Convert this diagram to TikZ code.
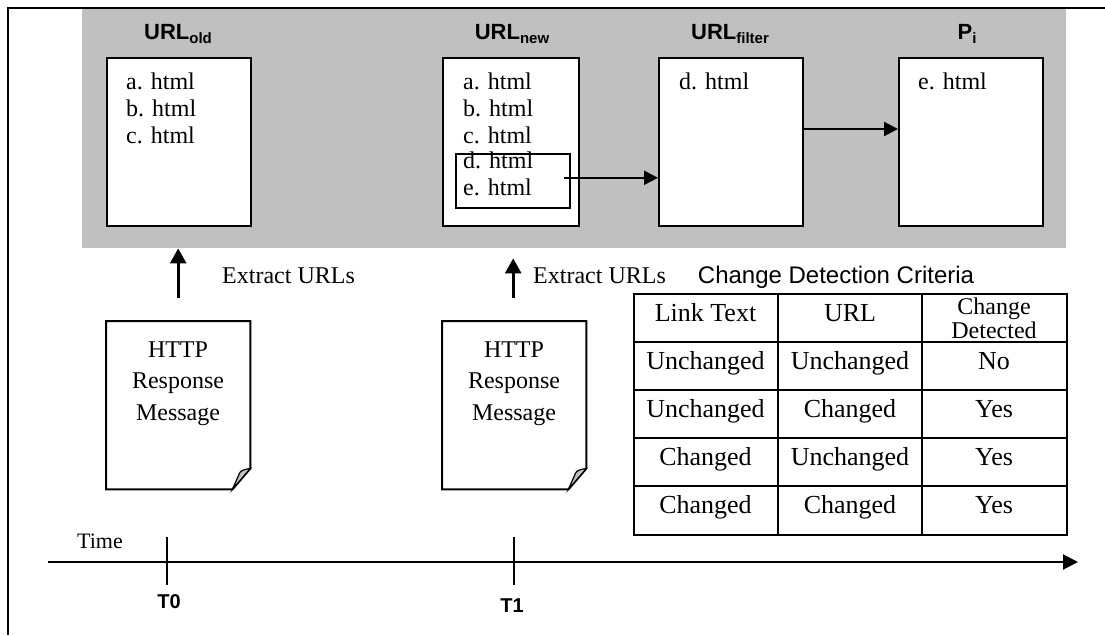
\documentclass[tikz,border=0pt]{standalone}
\usepackage{fontspec}
\setmainfont{Liberation Serif}
\newfontfamily\arial{Liberation Sans}
\usetikzlibrary{arrows.meta}
\definecolor{band}{HTML}{C0C0C0}

\tikzset{
  listbox/.style={draw, line width=2pt, fill=white, minimum width=144pt,
    minimum height=168pt, anchor=north west, inner sep=0pt},
  selbox/.style={draw, line width=1.6pt, minimum width=114pt,
    minimum height=54pt, anchor=north west, inner sep=0pt},
  docbox/.style={minimum width=144pt, minimum height=168pt,
    anchor=north west, inner sep=0pt},
  item/.style={anchor=base west, inner sep=0pt, font=\fontsize{24}{28}\selectfont},
  ctext/.style={anchor=base, inner sep=0pt, font=\fontsize{24}{28}\selectfont},
  cell/.style={anchor=base, inner sep=0pt, font=\fontsize{26}{30}\selectfont},
  title/.style={anchor=base, inner sep=0pt, font=\arial\bfseries\fontsize{22}{26}\selectfont},
  tick/.style={anchor=base, inner sep=0pt, font=\arial\bfseries\fontsize{20}{24}\selectfont},
  harr/.style={line width=2pt, -{Triangle[length=14pt,width=14pt]}},
  uarr/.style={line width=2.6pt, -{Triangle[length=15pt,width=16pt]}},
  tarr/.style={line width=2pt, -{Triangle[length=15pt,width=15pt]}},
  grid/.style={line width=1.8pt},
}

% dog-eared page outline drawn around a named node
\newcommand\pagedoc[1]{%
  \draw[line width=2pt, fill=white] (#1.north west) -- (#1.north east)
    -- ([yshift=21pt]#1.south east) -- ([xshift=-18pt]#1.south east)
    -- (#1.south west) -- cycle;
  \filldraw[fill=band, line width=1.2pt] ([yshift=21pt]#1.south east)
    .. controls ([xshift=-6pt,yshift=20pt]#1.south east) and ([xshift=-10pt,yshift=19pt]#1.south east)
    .. ([xshift=-11pt,yshift=16pt]#1.south east)
    -- ([xshift=-18pt]#1.south east) -- cycle;
}
\newcommand\subtitle[2]{#1{\fontsize{15}{17}\selectfont\raisebox{-4pt}{#2}}}

\begin{document}
\begin{tikzpicture}[x=1pt, y=-1pt]
\useasboundingbox (0,0) rectangle (1105,635);

% frame
\draw[line width=2pt] (1105,8) -- (8,8) -- (8,635);

% grey band with the URL lists
\node[fill=band, minimum width=984pt, minimum height=239pt, anchor=north west, inner sep=0pt] (band) at (82,9) {};

\node[listbox] (old) at (106,57) {};
\node[listbox, minimum width=136pt] (new) at (442,57) {};
\node[listbox] (filter) at (658,57) {};
\node[listbox] (pi) at (898,57) {};
\node[selbox] (sel) at (455,153) {};

\node[title] (tOld) at (178,39) {\subtitle{URL}{old}};
\node[title] (tNew) at (512,39) {\subtitle{URL}{new}};
\node[title] (tFilter) at (730,39) {\subtitle{URL}{filter}};
\node[title] (tPi) at (967,39) {\subtitle{P}{i}};

\node[item] (oa) at (126,89) {a. html};
\node[item] (ob) at (126,116) {b. html};
\node[item] (oc) at (126,143) {c. html};

\node[item] (na) at (463,89) {a. html};
\node[item] (nb) at (463,116) {b. html};
\node[item] (nc) at (463,143) {c. html};
\node[item] (nd) at (463,168) {d. html};
\node[item] (ne) at (463,195) {e. html};

\node[item] (fd) at (679,89) {d. html};
\node[item] (pe) at (918,89) {e. html};

\draw[harr] ([xshift=-7pt,yshift=3pt]sel.east) -- ([yshift=3pt]sel.east -| filter.west);
\draw[harr] ([yshift=13pt]filter.east) -- ([yshift=13pt]pi.west);

% HTTP response messages
\node[docbox] (doc0) at (106,321) {};
\node[docbox] (doc1) at (442,321) {};
\pagedoc{doc0}
\pagedoc{doc1}

\node[ctext] (m0a) at (178,357) {HTTP};
\node[ctext] (m0b) at (178,388.5) {Response};
\node[ctext] (m0c) at (178,420) {Message};
\node[ctext] (m1a) at (514,357) {HTTP};
\node[ctext] (m1b) at (514,388.5) {Response};
\node[ctext] (m1c) at (514,420) {Message};

\draw[uarr] ([yshift=23pt]doc0.north) -- (doc0.north |- band.south);
\draw[uarr] ([xshift=-1pt,yshift=23pt]doc1.north) -- ([xshift=-1pt,yshift=-10pt]doc1.north |- band.south);

\node[item] (ex0) at (222,283) {Extract URLs};
\node[item] (ex1) at (533,283) {Extract URLs};

% change detection table
\node[anchor=base, inner sep=0pt, font=\arial\fontsize{24}{28}\selectfont] (crit) at (836,283) {Change Detection Criteria};
\node[draw, grid, minimum width=433pt, minimum height=241pt, anchor=north west, inner sep=0pt] (tbl) at (633,293) {};
\foreach \yy in {342,390,438,486}
  \draw[grid] (tbl.west |- 0,\yy) -- (tbl.east |- 0,\yy);
\foreach \xx in {778,922}
  \draw[grid] (tbl.north -| \xx,0) -- (tbl.south -| \xx,0);

\node[cell] (h1) at (705.5,321) {Link Text};
\node[cell] (h2) at (850,321) {URL};
\node[cell, font=\fontsize{24}{24}\selectfont] (h3a) at (994,314) {Change};
\node[cell, font=\fontsize{24}{24}\selectfont] (h3b) at (994,338) {Detected};

\node[cell] (r1a) at (705.5,369) {Unchanged};
\node[cell] (r1b) at (850,369) {Unchanged};
\node[cell] (r1c) at (994,369) {No};
\node[cell] (r2a) at (705.5,417) {Unchanged};
\node[cell] (r2b) at (850,417) {Changed};
\node[cell] (r2c) at (994,417) {Yes};
\node[cell] (r3a) at (705.5,465) {Changed};
\node[cell] (r3b) at (850,465) {Unchanged};
\node[cell] (r3c) at (994,465) {Yes};
\node[cell] (r4a) at (705.5,513) {Changed};
\node[cell] (r4b) at (850,513) {Changed};
\node[cell] (r4c) at (994,513) {Yes};

% time axis
\coordinate (tstart) at (48,562);
\coordinate (tend) at (1078,562);
\draw[tarr] (tstart) -- (tend);
\node[anchor=base west, inner sep=0pt, font=\fontsize{22}{26}\selectfont] (time) at (77,548) {Time};
\coordinate (k0a) at (167,537);
\coordinate (k0b) at (167,585);
\coordinate (k1a) at (514,537);
\coordinate (k1b) at (514,585);
\draw[line width=1.2pt] (k0a) -- (k0b);
\draw[line width=1.2pt] (k1a) -- (k1b);
\node[tick] (T0) at (169,608) {T0};
\node[tick] (T1) at (512,612) {T1};
\end{tikzpicture}
\end{document}
